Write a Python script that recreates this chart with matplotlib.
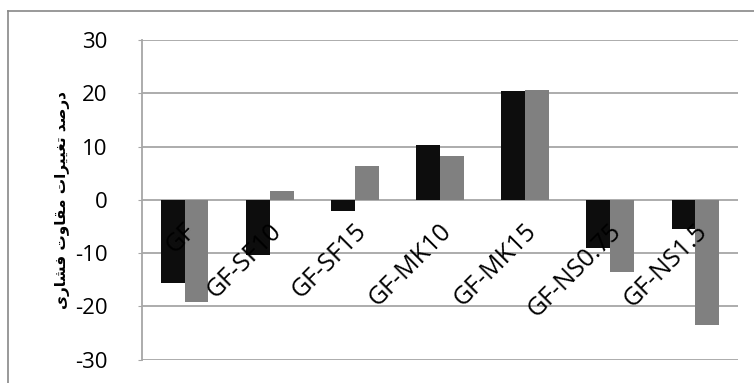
import matplotlib
matplotlib.use("Agg")
import matplotlib.pyplot as plt
import numpy as np
from matplotlib.lines import Line2D

categories = ["GF", "GF-SF10", "GF-SF15", "GF-MK10", "GF-MK15", "GF-NS0.75", "GF-NS1.5"]
series_black = [-15.6, -10.4, -2.0, 10.3, 20.4, -9.1, -5.5]
series_gray = [-19.2, 1.6, 6.4, 8.3, 20.6, -13.5, -23.5]
yticks = [-30, -20, -10, 0, 10, 20, 30]

# Persian y-axis label "درصد تغییرات مقاوت فشاری" in shaped (presentation) forms, logical order
ylabel_logical = ("\uFEA9\uFEAD\uFEBB\uFEAA" + " " +
                  "\uFE97\uFED0\uFEF4\uFEF4\uFEAE\uFE8D\uFE95" + " " +
                  "\uFEE3\uFED8\uFE8E\uFEED\uFE95" + " " +
                  "\uFED3\uFEB8\uFE8E\uFEAD\uFEEF")
ylabel_visual = ylabel_logical[::-1]

plt.rcParams['font.family'] = ['Open Sans', 'DejaVu Sans']

fig = plt.figure(figsize=(7.54, 3.83), dpi=100)
ax = fig.add_axes([142/754, 1-359.7/383, 596/754, (359.7-40)/383])

x = np.arange(len(categories))
w = 0.28
ax.bar(x - w/2, series_black, width=w, color="#0d0d0d", zorder=2)
ax.bar(x + w/2, series_gray, width=w, color="#808080", zorder=2)

ax.set_xlim(-0.5, len(categories) - 0.5)
ax.set_ylim(-30, 30)
ax.set_yticks(yticks)
ax.set_yticklabels([str(t) for t in yticks], fontsize=16)
ax.yaxis.grid(True, color="#a6a6a6", linewidth=1.3, zorder=0)
ax.set_axisbelow(True)
ax.tick_params(axis='y', length=3, color="#a6a6a6", pad=22)
ax.set_xticks([])
for s in ["top", "right", "bottom"]:
    ax.spines[s].set_visible(False)
ax.spines["left"].set_color("#a6a6a6")
ax.spines["left"].set_linewidth(1.3)

for i, lab in enumerate(categories):
    ax.text(i + 0.09, -5.2, lab, rotation=45, ha='right', va='center',
            rotation_mode='anchor', fontsize=18, color="black", zorder=3)

fig.text(0.083, 1-200/383, ylabel_visual, rotation=90, ha='center', va='center',
         fontsize=11, fontweight='bold', family='DejaVu Sans')

bx = 8/754
by = 1 - 11/383
fig.add_artist(Line2D([bx, bx], [0, by], transform=fig.transFigure, color="#888888", linewidth=1.2))
fig.add_artist(Line2D([bx, 1], [by, by], transform=fig.transFigure, color="#888888", linewidth=1.2))

fig.savefig("out.png", dpi=100)
